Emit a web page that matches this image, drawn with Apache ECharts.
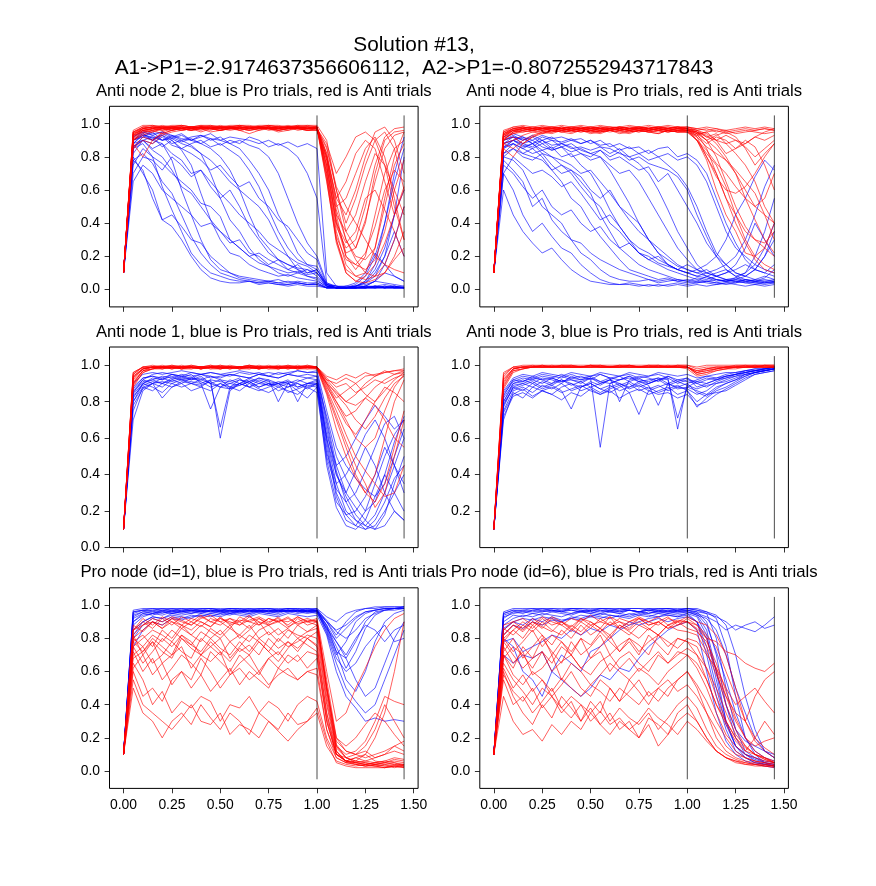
<!DOCTYPE html>
<html>
<head>
<meta charset="utf-8">
<script src="https://cdn.jsdelivr.net/npm/echarts@6/dist/echarts.min.js"></script>
<style>
html,body{margin:0;padding:0;background:#fff}
#chart{width:876px;height:886px}
</style>
</head>
<body>
<div id="chart"></div>
<script>
// sample times (s) shared by every trace
var times = [0,.05,.1,.15,.2,.25,.3,.35,.4,.45, .5,.55,.6,.65,.7,.75,.8,.85,.9,.95, 1,1.05,1.1,1.15,1.2,1.25,1.3,1.35,1.4,1.45];
var xTicks = [0,0.25,0.5,0.75,1,1.25,1.5];
var yTicks = [0,0.2,0.4,0.6,0.8,1];
var yTicksMidRight = [0.2,0.4,0.6,0.8,1];
var cueTimes = [1.0, 1.45];

var suptitleLines = ['Solution #13,', 'A1->P1=-2.9174637356606112,  A2->P1=-0.8072552943717843'];
var panelTitles = [
    'Anti node 2, blue is Pro trials, red is Anti trials',
    'Anti node 4, blue is Pro trials, red is Anti trials',
    'Anti node 1, blue is Pro trials, red is Anti trials',
    'Anti node 3, blue is Pro trials, red is Anti trials',
    'Pro node (id=1), blue is Pro trials, red is Anti trials',
    'Pro node (id=6), blue is Pro trials, red is Anti trials'
];

// Anti node 2
var anti2Pro = [
    [.1,.78,.72,.55,.42,.38,.3,.2,.12,.07, .05,.04,.04,.05,.03,.04,.03,.02,.03,.02, .02,.01,.01,.01,.01,.02,.01,.01,.01,.01],
    [.1,.85,.88,.8,.62,.48,.35,.22,.15,.1, .08,.06,.05,.05,.04,.05,.04,.03,.04,.03, .03,.01,.01,.01,.02,.01,.01,.02,.01,.02],
    [.1,.9,.93,.9,.88,.78,.6,.45,.3,.18, .12,.1,.07,.06,.05,.05,.06,.04,.05,.04, .04,.01,.01,.02,.01,.01,.02,.01,.02,.01],
    [.1,.82,.9,.92,.86,.9,.84,.75,.58,.42, .3,.22,.2,.15,.12,.1,.08,.09,.07,.06, .05,.02,.01,.01,.02,.05,.12,.25,.45,.6],
    [.1,.88,.94,.91,.93,.88,.9,.87,.82,.7, .55,.42,.35,.25,.18,.14,.1,.08,.1,.08, .07,.02,.01,.01,.01,.02,.01,.01,.02,.01],
    [.1,.75,.85,.8,.76,.7,.65,.6,.52,.5, .44,.3,.25,.2,.16,.14,.12,.1,.11,.09, .1,.03,.02,.02,.02,.03,.05,.04,.03,.02],
    [.1,.9,.95,.93,.9,.92,.89,.91,.88,.85, .8,.72,.6,.45,.32,.25,.18,.15,.12,.1, .12,.03,.01,.01,.01,.01,.02,.01,.01,.01],
    [.1,.86,.9,.88,.92,.87,.85,.88,.9,.86, .88,.84,.8,.72,.62,.48,.35,.25,.18,.15, .14,.03,.02,.01,.02,.04,.1,.2,.35,.2],
    [.1,.92,.96,.94,.95,.93,.9,.92,.93,.91, .9,.88,.9,.87,.85,.8,.7,.55,.4,.28, .2,.04,.02,.01,.01,.02,.02,.03,.02,.01],
    [.1,.7,.8,.78,.72,.8,.75,.68,.72,.62, .55,.6,.5,.38,.3,.22,.18,.15,.13,.12, .1,.02,.01,.01,.02,.05,.15,.4,.7,.92],
    [.1,.88,.93,.92,.9,.93,.91,.9,.92,.94, .9,.92,.91,.9,.88,.9,.87,.89,.86,.88, .85,.1,.02,.01,.01,.01,.01,.02,.01,.01],
    [.1,.8,.7,.6,.42,.45,.38,.3,.28,.2, .15,.1,.08,.07,.06,.05,.04,.05,.04,.03, .04,.01,.01,.01,.01,.02,.05,.1,.08,.05],
    [.1,.86,.9,.85,.88,.82,.78,.7,.72,.65, .58,.52,.45,.4,.35,.28,.24,.2,.16,.14, .1,.02,.01,.02,.04,.1,.22,.15,.08,.05],
    [.1,.9,.92,.95,.9,.91,.88,.86,.82,.78, .72,.65,.6,.55,.5,.42,.3,.2,.12,.08, .06,.01,.01,.01,.01,.01,.02,.01,.01,.01],
    [.1,.65,.75,.7,.6,.55,.5,.45,.38,.4, .35,.28,.3,.22,.2,.15,.18,.12,.1,.12, .08,.02,.01,.01,.01,.01,.01,.02,.01,.01],
    [.1,.92,.95,.93,.95,.92,.94,.9,.93,.9, .92,.88,.85,.78,.7,.6,.45,.35,.22,.15, .12,.03,.01,.01,.03,.08,.2,.4,.65,.85],
    [.1,.88,.9,.84,.8,.72,.62,.58,.5,.42, .35,.3,.25,.2,.22,.18,.15,.12,.15,.1, .12,.02,.01,.01,.01,.02,.05,.15,.3,.5],
    [.1,.9,.94,.9,.93,.9,.85,.82,.78,.72, .75,.68,.62,.65,.55,.5,.42,.38,.3,.22, .18,.03,.01,.01,.01,.01,.02,.01,.02,.01],
    [.1,.78,.82,.76,.65,.58,.45,.32,.22,.15, .1,.08,.06,.05,.04,.04,.03,.03,.04,.03, .03,.01,.01,.01,.02,.04,.08,.2,.45,.8],
    [.1,.85,.92,.9,.94,.91,.93,.9,.88,.91, .87,.9,.88,.92,.9,.86,.88,.85,.8,.7, .55,.04,.01,.01,.01,.01,.01,.01,.01,.01]
];
var anti2Anti = [
    [.1,.95,.98,.98,.99,.98,.99,.98,.99,.98, .99,.98,.99,.99,.98,.99,.99,.98,.99,.99, .98,.8,.45,.2,.12,.2,.45,.7,.85,.9],
    [.1,.92,.97,.98,.97,.98,.97,.98,.98,.97, .98,.98,.97,.98,.98,.97,.98,.98,.97,.98, .98,.7,.35,.15,.08,.1,.25,.55,.8,.95],
    [.1,.9,.93,.95,.97,.96,.97,.98,.97,.98, .97,.96,.97,.98,.97,.98,.97,.96,.98,.97, .97,.85,.6,.4,.55,.75,.9,.95,.85,.6],
    [.1,.88,.8,.9,.95,.97,.96,.97,.96,.98, .97,.98,.96,.97,.98,.97,.96,.97,.98,.96, .97,.75,.4,.2,.15,.12,.18,.35,.6,.78],
    [.1,.96,.99,.99,.98,.99,.99,.98,.99,.99, .98,.99,.99,.98,.99,.99,.98,.99,.98,.99, .99,.9,.6,.35,.25,.4,.7,.9,.95,.96],
    [.1,.9,.96,.97,.98,.97,.98,.97,.98,.98, .97,.98,.98,.97,.98,.97,.98,.97,.98,.98, .97,.65,.3,.1,.05,.04,.06,.1,.2,.35],
    [.1,.93,.95,.96,.94,.96,.97,.96,.97,.95, .96,.97,.96,.94,.96,.97,.95,.96,.97,.96, .96,.8,.5,.55,.7,.85,.92,.8,.55,.3],
    [.1,.94,.98,.97,.98,.98,.97,.98,.97,.98, .98,.97,.98,.98,.97,.98,.98,.97,.98,.97, .98,.72,.38,.25,.3,.5,.75,.92,.97,.98],
    [.1,.85,.9,.88,.93,.95,.96,.97,.98,.97, .98,.97,.98,.97,.98,.98,.97,.98,.97,.98, .97,.78,.48,.3,.2,.18,.25,.5,.75,.88],
    [.1,.92,.96,.95,.97,.96,.98,.97,.95,.97, .96,.98,.97,.96,.97,.98,.96,.97,.98,.97, .97,.88,.7,.8,.92,.95,.9,.75,.5,.3],
    [.1,.95,.97,.98,.97,.98,.98,.97,.98,.97, .98,.98,.97,.98,.97,.98,.97,.98,.98,.97, .98,.68,.3,.12,.08,.06,.08,.15,.3,.5],
    [.1,.9,.94,.96,.97,.97,.96,.97,.98,.97, .97,.98,.96,.97,.98,.97,.97,.98,.97,.98, .97,.82,.55,.45,.6,.8,.95,.98,.9,.7],
    [.1,.93,.97,.96,.98,.97,.97,.98,.97,.96, .98,.97,.98,.97,.96,.98,.97,.98,.97,.97, .98,.75,.42,.22,.25,.42,.65,.85,.93,.95],
    [.1,.94,.96,.97,.96,.98,.97,.96,.98,.97, .96,.97,.98,.97,.98,.96,.97,.98,.96,.97, .97,.86,.62,.5,.4,.3,.2,.15,.12,.1],
    [.1,.9,.95,.97,.98,.97,.98,.97,.98,.97, .98,.97,.98,.97,.98,.97,.98,.97,.98,.97, .97,.7,.32,.18,.15,.22,.38,.6,.72,.65],
    [.1,.93,.97,.98,.98,.98,.98,.98,.98,.98, .98,.98,.98,.98,.98,.98,.98,.98,.98,.98, .98,.82,.52,.3,.18,.1,.08,.1,.18,.25],
    [.1,.86,.92,.9,.94,.96,.97,.96,.97,.97, .96,.97,.97,.96,.97,.97,.96,.97,.97,.96, .96,.78,.45,.35,.45,.65,.82,.75,.6,.45],
    [.1,.95,.98,.99,.98,.98,.99,.98,.98,.99, .98,.98,.99,.98,.98,.99,.98,.98,.99,.98, .98,.74,.4,.28,.35,.55,.6,.48,.35,.2],
    [.1,.91,.96,.97,.96,.97,.97,.96,.97,.97, .96,.97,.97,.96,.97,.97,.96,.97,.97,.96, .97,.8,.55,.65,.82,.9,.85,.65,.45,.6],
    [.1,.94,.97,.98,.97,.98,.98,.97,.98,.98, .97,.98,.98,.97,.98,.98,.97,.98,.98,.97, .98,.66,.28,.1,.05,.08,.15,.28,.45,.62]
];

// Anti node 4
var anti4Pro = [
    [.1,.7,.6,.45,.35,.4,.32,.25,.22,.15, .1,.06,.04,.03,.03,.02,.03,.02,.03,.04, .03,.04,.05,.04,.05,.06,.05,.04,.05,.04],
    [.1,.8,.78,.72,.6,.5,.45,.4,.3,.22, .18,.12,.08,.06,.05,.05,.06,.04,.05,.06, .05,.07,.06,.08,.06,.07,.05,.06,.08,.06],
    [.1,.85,.88,.82,.85,.8,.72,.65,.55,.5, .4,.32,.25,.18,.12,.1,.08,.06,.07,.05, .06,.05,.08,.06,.05,.04,.06,.05,.04,.05],
    [.1,.88,.9,.86,.88,.84,.86,.8,.82,.75, .7,.6,.48,.38,.3,.22,.18,.15,.12,.1, .08,.06,.05,.06,.05,.07,.1,.2,.35,.55],
    [.1,.9,.93,.9,.92,.88,.9,.86,.88,.84, .82,.8,.72,.62,.52,.4,.3,.22,.15,.12, .1,.08,.07,.05,.06,.05,.04,.05,.06,.05],
    [.1,.82,.85,.8,.78,.82,.75,.7,.72,.68, .6,.55,.6,.5,.45,.4,.3,.25,.2,.15, .12,.1,.12,.08,.1,.12,.15,.12,.1,.15],
    [.1,.9,.92,.91,.88,.92,.9,.89,.91,.88, .9,.86,.85,.82,.8,.76,.7,.6,.48,.35, .25,.15,.1,.08,.06,.05,.06,.05,.04,.04],
    [.1,.85,.9,.88,.86,.9,.87,.88,.85,.86, .84,.86,.82,.85,.8,.82,.78,.8,.75,.7, .62,.5,.35,.22,.15,.1,.08,.12,.2,.3],
    [.1,.88,.92,.9,.93,.9,.92,.88,.9,.91, .88,.9,.86,.88,.85,.86,.82,.85,.86,.8, .82,.78,.7,.55,.4,.28,.18,.12,.1,.08],
    [.1,.75,.7,.62,.55,.6,.5,.45,.48,.4, .35,.38,.3,.25,.28,.22,.18,.2,.15,.12, .1,.08,.1,.12,.15,.2,.3,.45,.62,.75],
    [.1,.86,.88,.85,.82,.84,.8,.78,.75,.7, .72,.65,.58,.5,.42,.35,.3,.22,.18,.14, .12,.1,.08,.1,.12,.08,.1,.15,.25,.4],
    [.1,.6,.45,.35,.28,.22,.25,.18,.12,.08, .05,.04,.03,.03,.04,.03,.02,.03,.02,.03, .02,.03,.02,.03,.04,.03,.02,.03,.02,.03],
    [.1,.92,.94,.92,.9,.93,.91,.92,.9,.88, .9,.87,.88,.84,.86,.82,.84,.8,.82,.78, .8,.75,.65,.5,.35,.25,.2,.15,.12,.1],
    [.1,.8,.85,.82,.8,.78,.72,.75,.7,.62, .55,.5,.4,.35,.28,.22,.2,.16,.14,.12, .15,.12,.1,.08,.1,.15,.25,.4,.3,.2],
    [.1,.78,.72,.65,.5,.55,.42,.35,.3,.28, .22,.18,.15,.12,.1,.08,.06,.05,.06,.05, .04,.05,.04,.03,.04,.05,.04,.03,.04,.05],
    [.1,.9,.92,.88,.9,.86,.84,.86,.8,.82, .78,.8,.75,.7,.72,.65,.55,.45,.35,.25, .18,.12,.08,.06,.05,.06,.08,.12,.2,.35],
    [.1,.82,.88,.85,.88,.82,.8,.75,.72,.65, .58,.45,.35,.25,.2,.15,.12,.1,.08,.06, .05,.04,.05,.04,.03,.04,.05,.04,.03,.04],
    [.1,.88,.9,.92,.88,.9,.85,.88,.86,.82, .8,.84,.78,.8,.76,.72,.74,.65,.7,.6, .5,.4,.28,.2,.15,.1,.08,.06,.05,.06],
    [.1,.7,.8,.75,.7,.72,.68,.62,.65,.58, .5,.42,.45,.38,.3,.25,.22,.18,.15,.12, .1,.12,.15,.2,.3,.45,.55,.68,.78,.72],
    [.1,.86,.9,.87,.85,.88,.84,.86,.83,.85, .82,.84,.8,.83,.78,.8,.76,.74,.72,.68, .6,.45,.32,.2,.12,.08,.06,.05,.07,.12]
];
var anti4Anti = [
    [.1,.95,.98,.98,.97,.98,.98,.97,.98,.98, .97,.98,.98,.97,.98,.98,.97,.98,.98,.97, .98,.97,.96,.97,.95,.96,.97,.96,.97,.96],
    [.1,.9,.95,.96,.97,.96,.97,.97,.96,.97, .97,.96,.97,.96,.97,.97,.96,.97,.96,.97, .97,.95,.9,.8,.65,.5,.38,.3,.25,.2],
    [.1,.88,.85,.9,.93,.95,.96,.95,.96,.97, .96,.95,.96,.97,.96,.95,.97,.96,.95,.96, .96,.93,.88,.92,.9,.85,.88,.92,.9,.93],
    [.1,.93,.97,.98,.97,.97,.98,.97,.98,.97, .98,.97,.97,.98,.97,.98,.97,.98,.97,.98, .97,.94,.85,.7,.55,.45,.35,.3,.28,.35],
    [.1,.92,.96,.95,.96,.97,.96,.97,.96,.95, .96,.97,.96,.97,.96,.97,.96,.97,.96,.95, .96,.9,.82,.75,.62,.45,.3,.2,.15,.12],
    [.1,.96,.98,.99,.98,.99,.98,.99,.98,.99, .98,.99,.98,.98,.99,.98,.99,.98,.99,.98, .98,.97,.98,.97,.96,.97,.98,.97,.98,.97],
    [.1,.9,.92,.88,.92,.95,.94,.96,.95,.96, .94,.95,.96,.94,.95,.96,.95,.94,.96,.95, .95,.92,.86,.82,.78,.7,.6,.5,.55,.7],
    [.1,.94,.97,.97,.98,.97,.97,.98,.97,.97, .98,.97,.97,.98,.97,.97,.98,.97,.97,.98, .97,.96,.94,.9,.88,.82,.75,.65,.5,.4],
    [.1,.85,.8,.88,.92,.94,.95,.96,.95,.96, .95,.96,.95,.96,.95,.96,.95,.96,.95,.96, .95,.93,.95,.96,.94,.95,.96,.95,.94,.95],
    [.1,.93,.96,.97,.96,.97,.97,.96,.97,.96, .97,.97,.96,.97,.96,.97,.97,.96,.97,.96, .97,.9,.78,.6,.45,.35,.22,.2,.25,.4],
    [.1,.92,.95,.96,.95,.96,.95,.96,.97,.96, .95,.96,.97,.96,.95,.96,.97,.96,.95,.96, .96,.95,.92,.94,.88,.9,.86,.8,.85,.9],
    [.1,.95,.97,.98,.97,.98,.97,.98,.97,.98, .97,.98,.97,.98,.97,.98,.97,.98,.97,.98, .97,.95,.9,.85,.78,.72,.65,.58,.45,.3],
    [.1,.91,.94,.96,.97,.96,.95,.97,.96,.97, .96,.95,.97,.96,.97,.96,.95,.96,.97,.96, .96,.94,.9,.93,.95,.92,.85,.75,.82,.88],
    [.1,.94,.96,.97,.96,.97,.97,.96,.97,.96, .97,.96,.97,.96,.97,.97,.96,.97,.96,.97, .97,.92,.8,.68,.6,.58,.62,.7,.8,.88],
    [.1,.9,.95,.97,.96,.97,.96,.97,.96,.97, .96,.97,.96,.97,.96,.97,.96,.97,.96,.97, .96,.95,.93,.88,.8,.7,.55,.42,.3,.22],
    [.1,.92,.96,.97,.98,.97,.98,.97,.98,.97, .98,.97,.98,.97,.98,.97,.98,.97,.98,.97, .97,.96,.97,.95,.96,.94,.95,.96,.97,.96],
    [.1,.88,.9,.93,.95,.94,.96,.95,.94,.96, .95,.94,.96,.95,.94,.96,.95,.94,.96,.95, .95,.9,.84,.76,.7,.62,.55,.5,.45,.4],
    [.1,.94,.97,.98,.97,.98,.97,.98,.97,.98, .97,.98,.97,.98,.97,.98,.97,.98,.97,.98, .98,.96,.92,.9,.93,.9,.88,.92,.95,.97],
    [.1,.91,.94,.95,.96,.95,.96,.95,.96,.95, .96,.95,.96,.95,.96,.95,.96,.95,.96,.95, .95,.9,.8,.7,.55,.4,.28,.18,.12,.1],
    [.1,.93,.96,.97,.96,.97,.96,.97,.96,.97, .96,.97,.96,.97,.96,.97,.96,.97,.96,.97, .96,.94,.95,.9,.82,.85,.9,.86,.75,.6]
];

// Anti node 1
var anti1Pro = [
    [.1,.82,.9,.92,.94,.93,.95,.94,.95,.93, .94,.95,.94,.93,.95,.94,.93,.95,.94,.95, .94,.6,.35,.2,.15,.12,.18,.3,.45,.6],
    [.1,.75,.88,.86,.9,.92,.94,.92,.93,.9, .92,.88,.9,.92,.9,.89,.91,.9,.92,.9, .91,.55,.28,.15,.12,.2,.35,.5,.62,.7],
    [.1,.85,.92,.95,.96,.95,.94,.96,.95,.96, .95,.94,.96,.95,.96,.94,.96,.95,.97,.96, .96,.7,.45,.3,.22,.15,.1,.12,.2,.15],
    [.1,.7,.86,.9,.88,.92,.9,.93,.91,.88, .9,.87,.89,.91,.88,.9,.86,.88,.9,.87, .9,.5,.32,.25,.3,.42,.55,.68,.72,.6],
    [.1,.88,.93,.94,.92,.95,.93,.92,.94,.9, .66,.88,.92,.9,.93,.91,.9,.92,.88,.9, .92,.65,.4,.28,.18,.12,.1,.18,.35,.5],
    [.1,.8,.9,.88,.85,.9,.92,.9,.88,.92, .6,.86,.9,.88,.86,.88,.9,.85,.87,.89, .88,.45,.22,.12,.1,.15,.28,.4,.3,.2],
    [.1,.86,.92,.9,.93,.91,.93,.95,.9,.76, .88,.92,.9,.93,.91,.89,.9,.88,.91,.93, .92,.72,.5,.38,.28,.2,.25,.4,.58,.72],
    [.1,.84,.9,.93,.92,.94,.92,.93,.92,.94, .92,.91,.93,.88,.9,.92,.8,.9,.88,.9, .9,.6,.4,.3,.42,.55,.45,.3,.2,.15],
    [.1,.9,.95,.96,.95,.96,.97,.96,.95,.96, .95,.96,.97,.96,.95,.96,.95,.96,.97,.96, .97,.75,.55,.45,.38,.32,.28,.35,.5,.65],
    [.1,.78,.87,.9,.82,.88,.9,.86,.88,.86, .9,.88,.86,.9,.87,.85,.88,.86,.84,.88, .85,.48,.25,.18,.2,.28,.4,.55,.45,.3],
    [.1,.85,.91,.92,.9,.93,.92,.91,.9,.92, .91,.9,.92,.91,.93,.92,.9,.91,.8,.9, .89,.58,.3,.18,.12,.1,.15,.25,.38,.45],
    [.1,.8,.88,.9,.91,.9,.88,.9,.92,.9, .88,.87,.9,.88,.92,.9,.88,.9,.86,.82, .88,.52,.35,.4,.5,.62,.7,.6,.45,.35],
    [.1,.87,.93,.94,.93,.95,.94,.93,.95,.94, .93,.95,.94,.93,.95,.94,.93,.95,.94,.93, .94,.68,.42,.25,.15,.1,.12,.2,.3,.4],
    [.1,.83,.89,.91,.9,.88,.91,.9,.89,.91, .88,.9,.89,.91,.88,.9,.89,.91,.9,.88, .9,.62,.45,.5,.6,.7,.78,.72,.65,.7]
];
var anti1Anti = [
    [.1,.96,.99,1,.99,1,.99,1,.99,1, .99,1,.99,1,.99,1,.99,1,.99,1, .99,.9,.85,.8,.78,.82,.88,.92,.95,.96],
    [.1,.93,.98,.99,.99,.99,.98,.99,.99,.99, .98,.99,.99,.99,.98,.99,.99,.99,.98,.99, .99,.88,.8,.7,.6,.55,.6,.75,.88,.95],
    [.1,.9,.97,.98,.99,.99,.99,.99,.98,.99, .99,.99,.98,.99,.99,.99,.98,.99,.99,.99, .99,.92,.9,.93,.9,.94,.95,.96,.97,.97],
    [.1,.95,.99,.99,1,.99,.99,1,.99,.99, 1,.99,.99,1,.99,.99,1,.99,.99,1, .99,.85,.7,.55,.4,.3,.25,.35,.55,.75],
    [.1,.92,.98,.99,.98,.99,.99,.98,.99,.99, .98,.99,.99,.98,.99,.99,.98,.99,.99,.98, .99,.93,.88,.9,.85,.88,.92,.9,.93,.95],
    [.1,.94,.98,.99,.99,.98,.99,.99,.98,.99, .99,.98,.99,.99,.98,.99,.99,.98,.99,.99, .99,.87,.75,.62,.5,.42,.35,.28,.3,.45],
    [.1,.88,.96,.98,.99,.99,.98,.99,.99,.98, .99,.99,.98,.99,.99,.98,.99,.99,.98,.99, .98,.9,.82,.86,.9,.84,.8,.86,.92,.96],
    [.1,.95,.99,.99,.99,1,.99,.99,.99,1, .99,.99,.99,1,.99,.99,.99,1,.99,.99, .99,.91,.84,.78,.7,.65,.72,.82,.9,.94],
    [.1,.9,.97,.98,.98,.99,.98,.98,.99,.98, .98,.99,.98,.98,.99,.98,.98,.99,.98,.98, .98,.86,.72,.58,.45,.35,.22,.3,.5,.7],
    [.1,.93,.98,.99,.98,.99,.98,.99,.98,.99, .98,.99,.98,.99,.98,.99,.98,.99,.98,.99, .99,.94,.92,.95,.93,.96,.94,.97,.95,.97],
    [.1,.91,.97,.99,.99,.98,.99,.99,.98,.99, .99,.98,.99,.99,.98,.99,.99,.98,.99,.99, .99,.89,.78,.68,.62,.7,.8,.88,.85,.8],
    [.1,.96,.99,.99,.99,.99,1,.99,.99,.99, 1,.99,.99,.99,1,.99,.99,.99,1,.99, .99,.92,.86,.8,.84,.9,.94,.96,.97,.98],
    [.1,.89,.96,.98,.99,.98,.99,.99,.98,.99, .99,.98,.99,.99,.98,.99,.99,.98,.99,.99, .98,.84,.65,.5,.38,.3,.4,.6,.8,.92],
    [.1,.94,.98,.99,.99,.99,.99,.99,.99,.99, .99,.99,.99,.99,.99,.99,.99,.99,.99,.99, .99,.9,.8,.72,.75,.82,.78,.7,.6,.55]
];

// Anti node 3
var anti3Pro = [
    [.1,.78,.88,.9,.92,.9,.93,.91,.92,.9, .93,.91,.9,.92,.94,.91,.92,.93,.9,.92, .91,.9,.92,.93,.94,.95,.96,.97,.98,.98],
    [.1,.7,.85,.82,.88,.86,.84,.88,.9,.86, .88,.85,.88,.9,.87,.89,.86,.88,.9,.87, .88,.86,.84,.88,.9,.92,.94,.96,.97,.98],
    [.1,.8,.9,.92,.9,.93,.92,.9,.94,.92, .93,.55,.9,.92,.93,.91,.9,.92,.93,.9, .92,.91,.93,.92,.94,.95,.96,.97,.97,.98],
    [.1,.72,.83,.85,.82,.86,.84,.81,.85,.83, .87,.84,.86,.82,.85,.73,.86,.84,.85,.82, .84,.78,.8,.84,.87,.9,.93,.95,.96,.97],
    [.1,.85,.92,.94,.93,.95,.94,.93,.95,.93, .94,.95,.93,.94,.95,.93,.94,.95,.93,.65, .9,.92,.94,.93,.95,.96,.97,.98,.98,.99],
    [.1,.75,.86,.88,.85,.89,.87,.9,.86,.88, .9,.87,.85,.88,.9,.86,.88,.85,.87,.89, .86,.77,.82,.86,.88,.91,.94,.96,.97,.98],
    [.1,.82,.9,.91,.93,.92,.9,.94,.92,.91, .93,.9,.92,.94,.91,.93,.9,.92,.94,.91, .93,.88,.9,.92,.93,.94,.96,.97,.98,.98],
    [.1,.77,.88,.86,.9,.87,.89,.86,.76,.88, .9,.87,.89,.86,.88,.9,.87,.89,.86,.88, .87,.84,.86,.9,.92,.94,.95,.96,.97,.98],
    [.1,.84,.91,.93,.92,.94,.93,.95,.93,.94, .92,.95,.93,.8,.92,.94,.93,.91,.94,.92, .93,.9,.88,.91,.93,.95,.96,.97,.98,.99],
    [.1,.8,.89,.9,.88,.91,.89,.92,.9,.88, .91,.89,.92,.9,.88,.91,.89,.78,.9,.88, .9,.85,.83,.87,.9,.92,.95,.96,.97,.98],
    [.1,.86,.93,.95,.94,.96,.95,.94,.96,.95, .94,.96,.95,.94,.96,.95,.94,.96,.95,.94, .95,.93,.94,.95,.96,.96,.97,.98,.98,.99],
    [.1,.74,.84,.87,.83,.86,.88,.85,.87,.89, .86,.84,.87,.89,.85,.87,.84,.86,.88,.84, .86,.8,.84,.85,.86,.89,.92,.95,.96,.97],
    [.1,.83,.92,.91,.94,.92,.93,.91,.93,.92, .94,.91,.93,.92,.94,.92,.91,.93,.92,.71, .88,.91,.9,.92,.94,.95,.97,.97,.98,.99],
    [.1,.79,.87,.89,.91,.88,.9,.92,.89,.91, .88,.9,.92,.89,.91,.88,.9,.92,.89,.91, .89,.87,.89,.9,.91,.93,.95,.96,.97,.98]
];
var anti3Anti = [
    [.1,.95,.99,.99,.99,1,.99,1,1,.99, 1,1,.99,1,1,.99,1,1,.99,1, 1,.98,.99,.99,.99,1,1,1,1,1],
    [.1,.9,.98,.99,.99,.99,.99,.99,.99,.99, .99,.99,.99,.99,.99,.99,.99,.99,.99,.99, .99,.96,.97,.98,.99,.99,.99,.99,.99,.99],
    [.1,.93,.98,.99,1,.99,.99,1,.99,.99, 1,.99,.99,1,.99,.99,1,.99,.99,1, .99,.97,.98,.99,.99,.99,1,.99,1,1],
    [.1,.88,.97,.98,.99,.99,.99,.99,.99,.99, .99,.99,.99,.99,.99,.99,.99,.99,.99,.99, .99,.95,.96,.98,.98,.99,.99,.99,.99,.99],
    [.1,.96,.99,1,1,1,1,1,1,1, 1,1,1,1,1,1,1,1,1,1, 1,.99,1,1,1,1,1,1,1,1],
    [.1,.91,.98,.99,.99,.99,1,.99,.99,.99, 1,.99,.99,.99,1,.99,.99,.99,1,.99, .99,.96,.98,.98,.99,.99,.99,.99,1,.99],
    [.1,.94,.99,.99,.99,.99,.99,.99,.99,.99, .99,.99,.99,.99,.99,.99,.99,.99,.99,.99, .99,.97,.98,.99,.99,.99,.99,.99,.99,.99],
    [.1,.89,.97,.98,.99,.99,.99,.99,.99,.99, .99,.99,.99,.99,.99,.99,.99,.99,.99,.99, .98,.94,.95,.97,.98,.99,.99,.99,.99,.99],
    [.1,.92,.98,.99,.99,1,.99,.99,1,.99, .99,1,.99,.99,1,.99,.99,1,.99,.99, .99,.96,.97,.98,.99,.99,.99,1,.99,.99],
    [.1,.87,.96,.98,.99,.99,.99,.99,.99,.99, .99,.99,.99,.99,.99,.99,.99,.99,.99,.99, .99,.95,.96,.97,.98,.98,.99,.99,.99,.99]
];

// Pro node (id=1)
var pro1Pro = [
    [.1,.96,.97,.97,.98,.97,.98,.97,.98,.98, .97,.98,.98,.97,.98,.98,.97,.98,.98,.97, .98,.9,.82,.9,.96,.98,.98,.99,.99,.99],
    [.1,.95,.97,.96,.97,.96,.97,.97,.96,.97, .97,.96,.97,.97,.96,.97,.97,.96,.97,.97, .97,.85,.7,.78,.9,.95,.97,.98,.98,.98],
    [.1,.9,.95,.96,.95,.97,.96,.95,.97,.96, .95,.97,.96,.95,.97,.96,.95,.97,.96,.95, .96,.88,.72,.55,.48,.6,.78,.9,.95,.97],
    [.1,.85,.9,.93,.92,.94,.93,.92,.95,.94, .93,.95,.94,.93,.95,.94,.93,.95,.94,.93, .94,.82,.6,.45,.38,.3,.32,.3,.31,.3],
    [.1,.97,.98,.98,.98,.98,.98,.98,.98,.98, .98,.98,.98,.98,.98,.98,.98,.98,.98,.98, .98,.93,.9,.95,.97,.98,.99,.99,.99,.99],
    [.1,.8,.88,.92,.9,.93,.92,.94,.93,.95, .94,.96,.95,.94,.96,.95,.94,.96,.95,.96, .95,.86,.78,.7,.8,.88,.85,.78,.85,.88],
    [.1,.92,.95,.94,.96,.95,.96,.97,.96,.97, .96,.97,.97,.96,.97,.97,.96,.97,.97,.96, .97,.87,.75,.62,.72,.86,.94,.97,.98,.98],
    [.1,.75,.85,.9,.88,.92,.91,.93,.94,.93, .95,.94,.96,.95,.96,.95,.96,.97,.96,.97, .96,.9,.85,.88,.93,.96,.97,.98,.98,.99],
    [.1,.96,.97,.98,.97,.98,.97,.98,.97,.98, .97,.98,.97,.98,.97,.98,.97,.98,.97,.98, .97,.88,.78,.68,.55,.45,.5,.65,.8,.9],
    [.1,.88,.93,.95,.94,.96,.95,.96,.95,.97, .96,.95,.97,.96,.97,.96,.97,.96,.97,.96, .96,.84,.68,.6,.65,.75,.82,.88,.78,.8],
    [.1,.94,.96,.97,.96,.97,.96,.97,.97,.96, .97,.97,.96,.97,.97,.96,.97,.97,.96,.97, .97,.9,.8,.86,.92,.96,.97,.98,.98,.99],
    [.1,.82,.9,.93,.92,.95,.94,.95,.96,.95, .96,.95,.96,.97,.96,.97,.96,.97,.97,.96, .97,.86,.72,.68,.78,.9,.96,.97,.98,.98],
    [.1,.93,.96,.95,.97,.96,.97,.96,.97,.96, .97,.96,.97,.96,.97,.96,.97,.96,.97,.96, .97,.91,.84,.8,.85,.92,.95,.97,.97,.98],
    [.1,.9,.94,.95,.96,.95,.96,.97,.96,.97, .96,.97,.96,.97,.96,.97,.96,.97,.96,.97, .96,.83,.65,.5,.42,.35,.4,.55,.7,.85]
];
var pro1Anti = [
    [.1,.8,.85,.9,.88,.92,.9,.88,.93,.9, .92,.89,.91,.9,.92,.88,.9,.92,.89,.9, .88,.5,.15,.08,.06,.05,.04,.05,.04,.04],
    [.1,.7,.75,.65,.7,.78,.72,.68,.8,.75, .7,.78,.72,.76,.7,.8,.74,.78,.72,.8, .75,.35,.12,.06,.05,.04,.03,.04,.05,.03],
    [.1,.6,.45,.5,.42,.55,.6,.5,.58,.48, .55,.62,.52,.6,.55,.5,.62,.58,.55,.6, .62,.25,.1,.08,.1,.12,.08,.1,.15,.12],
    [.1,.5,.35,.3,.2,.3,.35,.28,.4,.32, .25,.35,.3,.22,.35,.3,.25,.35,.28,.3, .35,.15,.06,.04,.03,.04,.03,.02,.03,.02],
    [.1,.85,.9,.86,.92,.88,.93,.9,.87,.92, .9,.86,.93,.9,.88,.92,.9,.93,.88,.91, .9,.55,.2,.12,.1,.15,.25,.4,.3,.2],
    [.1,.75,.65,.72,.8,.75,.82,.78,.7,.75, .8,.68,.75,.82,.78,.72,.8,.75,.78,.82, .8,.4,.12,.05,.04,.03,.03,.02,.03,.03],
    [.1,.65,.55,.4,.48,.35,.42,.38,.45,.42, .3,.4,.38,.45,.35,.42,.38,.3,.4,.45, .42,.2,.08,.05,.06,.05,.04,.05,.06,.05],
    [.1,.82,.88,.92,.9,.93,.91,.88,.92,.94, .9,.92,.88,.91,.93,.9,.92,.88,.93,.9, .92,.6,.3,.35,.5,.62,.75,.85,.92,.95],
    [.1,.72,.6,.68,.55,.62,.7,.65,.58,.72, .66,.6,.7,.64,.58,.68,.62,.7,.66,.72, .7,.3,.1,.06,.05,.06,.08,.1,.12,.1],
    [.1,.55,.4,.35,.3,.25,.32,.4,.3,.28, .35,.22,.28,.25,.2,.3,.24,.18,.25,.3, .38,.18,.05,.03,.02,.02,.02,.02,.03,.02],
    [.1,.78,.82,.75,.85,.8,.88,.82,.78,.86, .82,.88,.8,.85,.9,.82,.86,.8,.88,.84, .86,.45,.15,.1,.12,.18,.3,.45,.42,.4],
    [.1,.68,.72,.78,.65,.7,.75,.62,.7,.66, .72,.58,.65,.7,.6,.68,.72,.65,.7,.62, .68,.3,.1,.06,.05,.04,.05,.04,.03,.04],
    [.1,.85,.88,.9,.86,.9,.88,.92,.9,.87, .92,.9,.88,.93,.9,.88,.91,.9,.93,.9, .91,.5,.18,.12,.1,.08,.1,.12,.15,.18],
    [.1,.62,.7,.58,.65,.52,.6,.55,.68,.6, .5,.58,.62,.55,.6,.52,.58,.62,.55,.6, .58,.25,.08,.05,.04,.03,.04,.03,.04,.03],
    [.1,.8,.75,.82,.78,.85,.8,.76,.84,.8, .85,.78,.82,.88,.8,.84,.78,.85,.82,.8, .84,.42,.14,.08,.06,.1,.2,.35,.6,.9],
    [.1,.78,.72,.8,.75,.7,.82,.76,.72,.8, .74,.7,.78,.72,.8,.75,.7,.78,.74,.8, .76,.35,.1,.06,.08,.06,.05,.06,.08,.07],
    [.1,.88,.84,.9,.86,.92,.88,.85,.9,.87, .93,.88,.9,.86,.92,.89,.93,.87,.9,.92, .9,.48,.12,.06,.04,.03,.04,.03,.02,.03],
    [.1,.82,.7,.78,.72,.68,.8,.74,.7,.78, .72,.66,.74,.7,.78,.72,.66,.74,.8,.76, .72,.32,.1,.06,.08,.1,.06,.05,.07,.06],
    [.1,.75,.8,.85,.82,.78,.86,.82,.88,.84, .8,.86,.82,.78,.85,.88,.82,.86,.8,.84, .88,.5,.2,.15,.2,.28,.35,.3,.22,.15],
    [.1,.85,.92,.88,.93,.9,.86,.9,.94,.9, .88,.92,.9,.94,.88,.92,.9,.86,.92,.88, .9,.52,.16,.08,.05,.04,.05,.06,.05,.04]
];

// Pro node (id=6)
var pro6Pro = [
    [.1,.95,.97,.97,.98,.97,.98,.97,.98,.98, .97,.98,.98,.97,.98,.98,.97,.98,.98,.97, .98,.97,.95,.8,.5,.25,.12,.08,.05,.04],
    [.1,.92,.96,.95,.97,.96,.97,.96,.97,.96, .97,.96,.97,.96,.97,.96,.97,.96,.97,.96, .97,.96,.9,.7,.4,.2,.1,.06,.04,.03],
    [.1,.85,.9,.88,.92,.9,.93,.91,.92,.94, .93,.95,.94,.93,.95,.94,.96,.95,.96,.95, .96,.95,.93,.9,.85,.88,.86,.84,.88,.93],
    [.1,.8,.75,.6,.55,.45,.6,.7,.65,.6, .72,.75,.8,.85,.88,.9,.92,.93,.94,.93, .95,.9,.7,.45,.25,.12,.08,.05,.04,.03],
    [.1,.96,.98,.98,.98,.98,.98,.98,.98,.98, .98,.98,.98,.98,.98,.98,.98,.98,.98,.98, .98,.98,.96,.92,.75,.45,.2,.1,.05,.03],
    [.1,.88,.92,.94,.93,.95,.94,.93,.95,.96, .95,.94,.96,.95,.94,.96,.95,.96,.95,.96, .96,.94,.85,.6,.3,.15,.08,.05,.04,.03],
    [.1,.9,.94,.93,.95,.94,.96,.95,.94,.96, .95,.97,.96,.95,.97,.96,.95,.97,.96,.97, .97,.96,.95,.93,.9,.85,.88,.9,.86,.88],
    [.1,.7,.65,.7,.68,.72,.6,.55,.5,.45, .5,.58,.55,.62,.6,.68,.75,.8,.85,.88, .9,.85,.6,.35,.18,.1,.06,.04,.03,.02],
    [.1,.94,.96,.97,.96,.97,.96,.97,.97,.96, .97,.97,.96,.97,.97,.96,.97,.97,.96,.97, .97,.95,.88,.72,.55,.35,.2,.12,.08,.06],
    [.1,.86,.9,.92,.91,.93,.92,.9,.93,.92, .94,.93,.92,.94,.93,.95,.94,.93,.95,.94, .95,.93,.82,.55,.3,.15,.1,.08,.06,.05],
    [.1,.93,.95,.96,.95,.96,.97,.96,.95,.97, .96,.95,.97,.96,.97,.96,.97,.96,.97,.96, .96,.94,.92,.85,.7,.5,.35,.2,.12,.08],
    [.1,.82,.88,.86,.9,.88,.91,.9,.92,.91, .93,.92,.94,.93,.92,.94,.93,.95,.94,.93, .94,.9,.75,.5,.28,.15,.1,.07,.05,.04],
    [.1,.95,.97,.96,.97,.98,.97,.96,.98,.97, .96,.98,.97,.98,.97,.96,.98,.97,.98,.97, .98,.97,.96,.94,.88,.7,.45,.25,.12,.08],
    [.1,.78,.8,.72,.75,.78,.82,.8,.85,.82, .86,.84,.88,.86,.9,.88,.9,.92,.9,.92, .93,.9,.8,.6,.4,.25,.18,.15,.12,.1]
];
var pro6Anti = [
    [.1,.8,.85,.9,.86,.92,.88,.9,.85,.92, .88,.9,.93,.86,.9,.92,.88,.9,.93,.88, .92,.88,.8,.6,.4,.25,.15,.1,.08,.06],
    [.1,.7,.62,.75,.68,.8,.72,.65,.78,.7, .75,.82,.7,.76,.8,.72,.78,.82,.75,.8, .78,.7,.55,.4,.3,.2,.12,.1,.08,.05],
    [.1,.6,.45,.35,.28,.4,.32,.45,.38,.3, .42,.35,.5,.42,.55,.48,.4,.5,.45,.55, .6,.5,.35,.2,.12,.08,.06,.05,.04,.03],
    [.1,.45,.3,.22,.25,.18,.28,.22,.3,.25, .35,.28,.22,.3,.25,.2,.32,.28,.22,.35, .4,.3,.2,.12,.08,.05,.04,.03,.03,.02],
    [.1,.85,.9,.86,.92,.88,.93,.9,.87,.92, .9,.86,.93,.9,.88,.92,.9,.93,.88,.91, .9,.88,.82,.75,.6,.45,.3,.2,.14,.1],
    [.1,.75,.65,.72,.58,.62,.7,.55,.65,.6, .52,.58,.65,.6,.55,.62,.58,.52,.6,.65, .7,.62,.5,.35,.22,.15,.1,.08,.06,.05],
    [.1,.65,.55,.48,.4,.5,.45,.38,.45,.4, .35,.42,.3,.38,.32,.28,.35,.25,.32,.4, .45,.38,.25,.15,.1,.07,.05,.04,.03,.03],
    [.1,.82,.88,.84,.9,.86,.92,.88,.84,.9, .86,.92,.88,.9,.86,.92,.88,.9,.86,.9, .9,.86,.8,.78,.72,.7,.65,.62,.6,.65],
    [.1,.72,.8,.68,.75,.82,.7,.78,.72,.8, .68,.75,.82,.72,.78,.7,.82,.76,.7,.8, .78,.75,.62,.45,.3,.2,.14,.1,.07,.05],
    [.1,.55,.4,.45,.35,.42,.5,.38,.32,.4, .3,.36,.28,.32,.25,.3,.38,.32,.28,.22, .3,.25,.18,.12,.08,.06,.04,.04,.03,.03],
    [.1,.78,.85,.8,.88,.82,.76,.85,.8,.88, .82,.86,.8,.88,.84,.8,.86,.82,.88,.85, .84,.82,.72,.58,.45,.35,.3,.45,.55,.6],
    [.1,.68,.75,.7,.62,.72,.65,.75,.7,.62, .68,.72,.6,.68,.72,.65,.6,.7,.65,.72, .7,.65,.55,.4,.28,.18,.12,.2,.3,.22],
    [.1,.88,.9,.92,.88,.93,.9,.88,.92,.9, .94,.9,.88,.92,.9,.93,.9,.88,.92,.9, .93,.9,.88,.82,.7,.5,.3,.18,.12,.08],
    [.1,.62,.5,.58,.48,.55,.45,.52,.6,.5, .45,.55,.5,.42,.48,.55,.45,.5,.55,.48, .52,.45,.35,.25,.15,.1,.08,.06,.05,.04],
    [.1,.8,.72,.78,.85,.75,.82,.78,.7,.8, .76,.84,.78,.72,.8,.76,.7,.82,.78,.74, .8,.78,.7,.62,.5,.4,.45,.5,.42,.35],
    [.1,.58,.48,.42,.5,.38,.45,.35,.42,.3, .38,.28,.35,.25,.3,.2,.28,.15,.22,.3, .35,.3,.2,.12,.08,.06,.05,.04,.04,.03],
    [.1,.86,.82,.88,.84,.9,.85,.82,.88,.84, .9,.86,.82,.88,.85,.9,.86,.82,.88,.9, .86,.84,.78,.65,.48,.32,.2,.12,.08,.05],
    [.1,.78,.7,.62,.68,.72,.6,.66,.7,.62, .58,.66,.7,.62,.68,.6,.66,.72,.65,.7, .74,.7,.62,.5,.35,.22,.15,.1,.07,.05],
    [.1,.82,.88,.85,.9,.87,.84,.9,.86,.82, .88,.84,.9,.86,.82,.88,.85,.9,.86,.88, .9,.85,.75,.62,.45,.3,.2,.15,.18,.2],
    [.1,.7,.58,.52,.6,.55,.48,.56,.5,.45, .52,.48,.42,.5,.45,.4,.48,.42,.5,.55, .6,.52,.42,.3,.2,.12,.08,.06,.05,.04]
];

// layout (matplotlib default subplot params on an 876x886 figure)
var FONT = '"Liberation Sans", Arial, Helvetica, sans-serif';
var colLeft = [109.5, 479.8];
var rowTop = [106.3, 347.0, 587.8];
var axW = 308.6, axH = 200.6;

var panels = [
    {title: panelTitles[0], pro: anti2Pro, anti: anti2Anti, row: 0, col: 0, ymin: -0.105, ymax: 1.105, ticks: yTicks, cue: [-0.05, 1.05]},
    {title: panelTitles[1], pro: anti4Pro, anti: anti4Anti, row: 0, col: 1, ymin: -0.105, ymax: 1.105, ticks: yTicks, cue: [-0.05, 1.05]},
    {title: panelTitles[2], pro: anti1Pro, anti: anti1Anti, row: 1, col: 0, ymin: 0, ymax: 1.1, ticks: yTicks, cue: [0.05, 1.05]},
    {title: panelTitles[3], pro: anti3Pro, anti: anti3Anti, row: 1, col: 1, ymin: 0, ymax: 1.1, ticks: yTicksMidRight, cue: [0.05, 1.05]},
    {title: panelTitles[4], pro: pro1Pro, anti: pro1Anti, row: 2, col: 0, ymin: -0.105, ymax: 1.105, ticks: yTicks, cue: [-0.05, 1.05]},
    {title: panelTitles[5], pro: pro6Pro, anti: pro6Anti, row: 2, col: 1, ymin: -0.105, ymax: 1.105, ticks: yTicks, cue: [-0.05, 1.05]}
];

function traceData(values){
    return times.map(function(t, k){ return [t, values[k]]; });
}

var grids = [], xAxes = [], yAxes = [], series = [], graphics = [];

panels.forEach(function(p, i){
    var left = colLeft[p.col], top = rowTop[p.row];
    grids.push({left: left, top: top, width: axW, height: axH, show: true,
        borderColor: '#000', borderWidth: 1, backgroundColor: 'transparent', containLabel: false});
    xAxes.push({
        gridIndex: i, type: 'value', min: -0.0725, max: 1.5225, position: 'bottom',
        axisLine: {show: false, onZero: false}, splitLine: {show: false},
        axisTick: {show: true, customValues: xTicks, length: 4.9, lineStyle: {color: '#000', width: 0.8}},
        axisLabel: {show: p.row === 2, customValues: xTicks, margin: 9.5, color: '#000', fontSize: 13.9, fontFamily: FONT,
            formatter: function(v){ return v.toFixed(2); }}
    });
    yAxes.push({
        gridIndex: i, type: 'value', min: p.ymin, max: p.ymax, position: 'left',
        axisLine: {show: false, onZero: false}, splitLine: {show: false},
        axisTick: {show: true, customValues: p.ticks, length: 4.9, lineStyle: {color: '#000', width: 0.8}},
        axisLabel: {show: true, customValues: p.ticks, margin: 9.5, color: '#000', fontSize: 13.9, fontFamily: FONT,
            formatter: function(v){ return v.toFixed(1); }}
    });
    p.pro.forEach(function(tr){
        series.push({type: 'line', xAxisIndex: i, yAxisIndex: i, data: traceData(tr), symbol: 'none',
            silent: true, z: 2, lineStyle: {color: '#0000ff', width: 0.7, opacity: 0.9}});
    });
    p.anti.forEach(function(tr){
        series.push({type: 'line', xAxisIndex: i, yAxisIndex: i, data: traceData(tr), symbol: 'none',
            silent: true, z: 3, lineStyle: {color: '#ff0000', width: 0.7, opacity: 0.9}});
    });
    cueTimes.forEach(function(c){
        series.push({type: 'line', xAxisIndex: i, yAxisIndex: i, data: [[c, p.cue[0]], [c, p.cue[1]]], symbol: 'none',
            silent: true, z: 4, lineStyle: {color: '#000', width: 0.7}});
    });
    // subplot title, baseline ~8px above the axes
    graphics.push({type: 'text', x: left + axW / 2, y: top - 9.3 - 5.8,
        style: {text: p.title, font: '16.7px ' + FONT, fill: '#000', align: 'center', verticalAlign: 'middle'}});
});

graphics.push({type: 'text', x: 414, y: 45,
    style: {text: suptitleLines[0], font: '20.8px ' + FONT, fill: '#000', align: 'center', verticalAlign: 'middle'}});
graphics.push({type: 'text', x: 414, y: 68,
    style: {text: suptitleLines[1], font: '20.8px ' + FONT, fill: '#000', align: 'center', verticalAlign: 'middle'}});

var myChart = echarts.init(document.getElementById('chart'), null, {renderer: 'canvas'});
var option = {
    animation: false,
    backgroundColor: '#fff',
    grid: grids,
    xAxis: xAxes,
    yAxis: yAxes,
    series: series,
    graphic: graphics
};
myChart.setOption(option, true);
</script>
</body>
</html>
